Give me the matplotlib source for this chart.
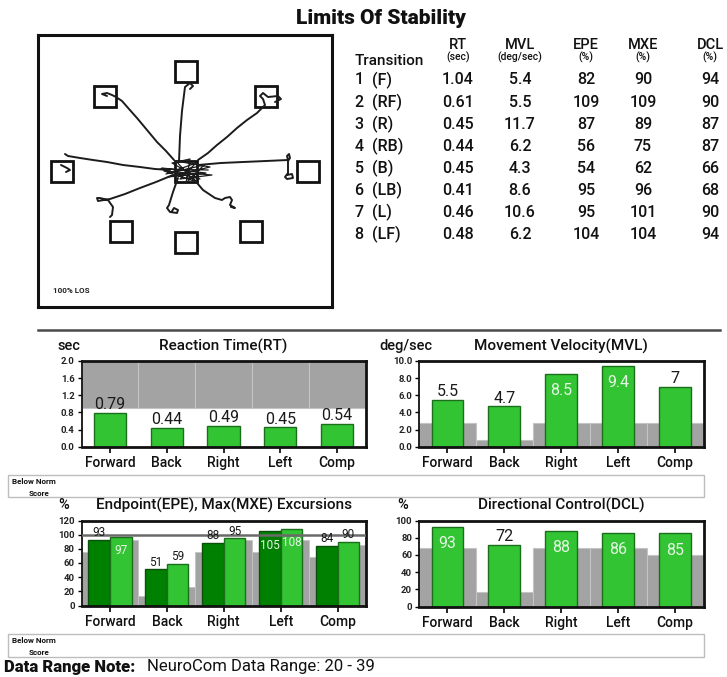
import matplotlib
matplotlib.use("Agg")
import matplotlib.pyplot as plt
from matplotlib.patches import Rectangle

plt.rcParams['font.family'] = ['Roboto', 'DejaVu Sans']

W, H = 727, 677

# ---------------- summary table ----------------
transition_num = ['1', '2', '3', '4', '5', '6', '7', '8']
transition_dir = ['(F)', '(RF)', '(R)', '(RB)', '(B)', '(LB)', '(L)', '(LF)']
table_rt = ['1.04', '0.61', '0.45', '0.44', '0.45', '0.41', '0.46', '0.48']
table_mvl = ['5.4', '5.5', '11.7', '6.2', '4.3', '8.6', '10.6', '6.2']
table_epe = [82, 109, 87, 56, 54, 95, 95, 104]
table_mxe = [90, 109, 89, 75, 62, 96, 101, 104]
table_dcl = [94, 90, 87, 87, 66, 68, 90, 94]
table_headers = ['RT', 'MVL', 'EPE', 'MXE', 'DCL']
table_units = ['(sec)', '(deg/sec)', '(%)', '(%)', '(%)']

# ---------------- trace plot (target layout, arbitrary units) ----------------
target_x = [0, 0, 80, 122, 65, 0, -65, -124, -81]
target_y = [0, 100, 75, 0, -60, -71, -60, 0, 75]
target_size = 22

trace_paths = {
    'F':  [(-7, 9), (-6, 35), (-4, 60), (-1, 84), (4, 88), (7, 85), (4, 82)],
    'RF': [(12, 11), (22, 18), (31, 26), (41, 34), (51, 43), (61, 51), (71, 58),
           (79, 66), (77, 72), (74, 75), (77, 78), (82, 74), (92, 75), (95, 72),
           (89, 69)],
    'R':  [(12, 6), (35, 8), (57, 9), (80, 10), (102, 11), (101, 15), (103, 17),
           (104, 13), (102, 10), (102, -2), (99, -6), (101, -8), (107, -7),
           (106, -3), (101, -4)],
    'RB': [(6, -6), (17, -19), (29, -27), (36, -29), (39, -27), (44, -26),
           (46, -29), (44, -34), (49, -37), (45, -36)],
    'B':  [(-8, -7), (-13, -21), (-17, -34), (-19, -37), (-16, -41), (-9, -42),
           (-8, -39), (-12, -37), (-14, -40)],
    'LB': [(-13, -4), (-30, -11), (-46, -17), (-61, -23), (-76, -28), (-88, -30),
           (-89, -27), (-86, -27), (-78, -29), (-73, -36), (-74, -44), (-76, -46)],
    'L':  [(-16, 1), (-31, 2), (-46, 4), (-63, 6), (-79, 9), (-93, 11),
           (-106, 13), (-118, 15), (-121, 17)],
    'L2': [(-125, 6), (-119, 3), (-116, 1), (-120, -1)],
    'LF': [(-12, 11), (-20, 20), (-29, 29), (-39, 41), (-49, 53), (-57, 62),
           (-64, 70), (-70, 74), (-74, 76), (-79, 78), (-84, 77), (-79, 75)],
}
center_scribble = [(-24, 3), (20, -2), (-18, -6), (24, 4), (-10, 10), (8, -10),
                   (-22, 0), (26, -4), (-6, -8), (10, 8), (-20, -3), (18, 6),
                   (0, -12), (4, 12), (-14, 8), (14, -8), (-26, 2), (22, 1)]

# ---------------- bar chart data ----------------
directions = ['Forward', 'Back', 'Right', 'Left', 'Comp']
rt_values = [0.79, 0.44, 0.49, 0.45, 0.54]
rt_norm = [0.9, 0.9, 0.9, 0.9, 0.9]
mvl_values = [5.5, 4.7, 8.5, 9.4, 7]
mvl_norm = [2.8, 0.8, 2.8, 2.8, 2.8]
epe_values = [93, 51, 88, 105, 84]
mxe_values = [97, 59, 95, 108, 90]
epe_norm = [76, 14, 76, 76, 68]
mxe_norm = [93, 26, 93, 93, 85]
dcl_values = [93, 72, 88, 86, 85]
dcl_norm = [68, 17, 68, 68, 60]

GREEN = '#33c433'
DARK_GREEN = '#008000'
GREEN_EDGE = '#1b6e1b'
NORM_GRAY = '#a3a3a3'
INSIDE_TXT = '#e4f6e4'
TXT = '#111111'
MED = 'medium'

fig = plt.figure(figsize=(W / 100, H / 100), dpi=100)


def px_axes(x0, y0, x1, y1):
    return fig.add_axes([x0 / W, 1 - y1 / H, (x1 - x0) / W, (y1 - y0) / H])


def ftext(x, y, s, **kw):
    return fig.text(x / W, 1 - y / H, s, **kw)


# ---------------- title ----------------
ftext(381, 19, 'Limits Of Stability', ha='center', va='center',
      fontsize=15, fontweight='black', color=TXT)

# ---------------- trace plot ----------------
ax_t = px_axes(38, 35, 332, 307)
ax_t.set_xlim(-148, 146)
ax_t.set_ylim(-136, 136)
ax_t.set_xticks([])
ax_t.set_yticks([])
for s in ax_t.spines.values():
    s.set_linewidth(2.2)
    s.set_color(TXT)
for cx, cy in zip(target_x, target_y):
    ax_t.add_patch(Rectangle((cx - target_size / 2, cy - target_size / 2),
                             target_size, target_size * 0.95, fill=False,
                             lw=2.0, ec=TXT, zorder=3))
for name, pts in trace_paths.items():
    xs, ys = zip(*pts)
    ax_t.plot(xs, ys, color='#1c1c1c', lw=1.4, solid_joinstyle='round',
              solid_capstyle='round', zorder=4)
sx, sy = zip(*center_scribble)
ax_t.plot(sx, sy, color='#1c1c1c', lw=0.9, zorder=4)
ax_t.text(0.05, 0.06, '100% LOS', transform=ax_t.transAxes, fontsize=5.8,
          fontweight='bold', color='#222222', ha='left', va='center')

# ---------------- table ----------------
col_x = [458, 520, 586, 643, 710]
ftext(389, 61, 'Transition', ha='center', va='center', fontsize=11,
      fontweight=MED, color=TXT)
for cx, h, u in zip(col_x, table_headers, table_units):
    ftext(cx, 45, h, ha='center', va='center', fontsize=10.5,
          fontweight=MED, color=TXT)
    ftext(cx, 57, u, ha='center', va='center', fontsize=7.5,
          fontweight=MED, color=TXT)
row_y0, row_dy = 80, 22.1
for i in range(len(transition_num)):
    y = row_y0 + i * row_dy
    ftext(359, y, transition_num[i], ha='center', va='center', fontsize=11.5,
          fontweight=MED, color=TXT)
    ftext(372, y, transition_dir[i], ha='left', va='center', fontsize=11.5,
          fontweight=MED, color=TXT)
    vals = [table_rt[i], table_mvl[i], str(table_epe[i]), str(table_mxe[i]),
            str(table_dcl[i])]
    for cx, v in zip(col_x, vals):
        ftext(cx, y, v, ha='center', va='center', fontsize=11.5,
              fontweight=MED, color=TXT)

# ---------------- separator ----------------
fig.add_artist(plt.Line2D([38 / W, 720 / W], [1 - 330 / H, 1 - 330 / H],
                          color='#4a4a4a', lw=1.8))


# ---------------- bar charts ----------------
def setup_chart(rect, title, unit, unit_x, title_y, ymax, yticks, yfmt):
    ax = px_axes(*rect)
    ax.set_xlim(-0.5, 4.5)
    ax.set_ylim(0, ymax)
    ax.set_yticks(yticks)
    ax.set_yticklabels([yfmt.format(v) for v in yticks], fontsize=6.8,
                       fontweight='bold', color='#222222')
    ax.set_xticks(range(len(directions)))
    ax.set_xticklabels(directions, fontsize=10, fontweight=MED, color=TXT)
    for s in ax.spines.values():
        s.set_linewidth(2.0)
        s.set_color(TXT)
    ax.spines['left'].set_linewidth(1.3)
    ax.tick_params(axis='x', length=4, width=1.2, pad=3)
    ax.tick_params(axis='y', length=3, width=1, pad=2)
    x0, x1 = rect[0], rect[2]
    ftext((x0 + x1) / 2, title_y, title, ha='center', va='center',
          fontsize=11, fontweight=MED, color=TXT)
    ftext(unit_x, title_y, unit, ha='center', va='center', fontsize=10.5,
          fontweight=MED, color=TXT)
    return ax


def label_bars(ax, xs, vals, ymax, fs, inside_off):
    for x, v in zip(xs, vals):
        txt = f'{v:g}'
        if v / ymax >= 0.8:
            ax.annotate(txt, (x, v), xytext=(0, inside_off),
                        textcoords='offset points', ha='center', va='center',
                        fontsize=fs, color=INSIDE_TXT, zorder=6)
        else:
            ax.annotate(txt, (x, v), xytext=(0, 0.5),
                        textcoords='offset points', ha='center', va='bottom',
                        fontsize=fs, color='#1a1a1a', zorder=6)


xs = list(range(len(directions)))

# Reaction time: shaded region above the normal limit
ax_rt = setup_chart((81.5, 361, 365.5, 446.7), 'Reaction Time(RT)', 'sec', 69,
                    346, 2.0, [0.0, 0.4, 0.8, 1.2, 1.6, 2.0], '{:.1f}')
ax_rt.bar(xs, [2.0 - n for n in rt_norm], bottom=rt_norm, width=1.0,
          color=NORM_GRAY, edgecolor='#c4c4c4', lw=0.8, zorder=1)
ax_rt.bar(xs, rt_values, width=0.57, color=GREEN, edgecolor=GREEN_EDGE,
          lw=1, zorder=2)
label_bars(ax_rt, xs, rt_values, 2.0, 11.5, -12)

# Movement velocity
ax_mvl = setup_chart((419, 361, 703.5, 446.7), 'Movement Velocity(MVL)',
                     'deg/sec', 406, 346, 10.0,
                     [0.0, 2.0, 4.0, 6.0, 8.0, 10.0], '{:.1f}')
ax_mvl.bar(xs, mvl_norm, width=1.0, color=NORM_GRAY, edgecolor='#c4c4c4',
           lw=0.8, zorder=1)
ax_mvl.bar(xs, mvl_values, width=0.56, color=GREEN, edgecolor=GREEN_EDGE,
           lw=1, zorder=2)
label_bars(ax_mvl, xs, mvl_values, 10.0, 11.5, -12)

# Endpoint and maximum excursions
ax_ex = setup_chart((81.5, 520.5, 366, 605.5),
                    'Endpoint(EPE), Max(MXE) Excursions', '%', 64, 505, 120,
                    [0, 20, 40, 60, 80, 100, 120], '{:d}')
ax_ex.bar([x - 0.25 for x in xs], epe_norm, width=0.5, color=NORM_GRAY,
          edgecolor='#c4c4c4', lw=0.6, zorder=1)
ax_ex.bar([x + 0.25 for x in xs], mxe_norm, width=0.5, color=NORM_GRAY,
          edgecolor='#c4c4c4', lw=0.6, zorder=1)
ax_ex.bar([x - 0.19 for x in xs], epe_values, width=0.38, color=DARK_GREEN,
          edgecolor='#0b4f0b', lw=1, zorder=2)
ax_ex.bar([x + 0.19 for x in xs], mxe_values, width=0.38, color=GREEN,
          edgecolor=GREEN_EDGE, lw=1, zorder=2)
ax_ex.axhline(100, color='#6a6a6a', lw=1.8, zorder=3)
label_bars(ax_ex, [x - 0.19 for x in xs], epe_values, 120, 8.5, -10)
label_bars(ax_ex, [x + 0.19 for x in xs], mxe_values, 120, 8.5, -10)

# Directional control
ax_dcl = setup_chart((419, 520.5, 703.5, 606.5), 'Directional Control(DCL)',
                     '%', 403, 505, 100, [0, 20, 40, 60, 80, 100], '{:d}')
ax_dcl.bar(xs, dcl_norm, width=1.0, color=NORM_GRAY, edgecolor='#c4c4c4',
           lw=0.8, zorder=1)
ax_dcl.bar(xs, dcl_values, width=0.56, color=GREEN, edgecolor=GREEN_EDGE,
           lw=1, zorder=2)
label_bars(ax_dcl, xs, dcl_values, 100, 11.5, -12)

# ---------------- below-norm score strips ----------------
for top, bottom in [(475, 497), (634, 657)]:
    fig.add_artist(Rectangle((8 / W, 1 - bottom / H), (704 - 8) / W,
                             (bottom - top) / H, transform=fig.transFigure,
                             fill=False, ec='#bdbdbd', lw=1))
    ftext(12, top + 6.5, 'Below Norm', ha='left', va='center', fontsize=5.8,
          fontweight='bold', color=TXT)
    ftext(29, top + 18.5, 'Score', ha='left', va='center', fontsize=5.8,
          fontweight='bold', color=TXT)

# ---------------- footer ----------------
ftext(4, 667, 'Data Range Note:', ha='left', va='center', fontsize=12,
      fontweight='black', color=TXT)
ftext(147, 667, 'NeuroCom Data Range: 20 - 39', ha='left', va='center',
      fontsize=12, color=TXT)

fig.savefig('out.png', dpi=100)
